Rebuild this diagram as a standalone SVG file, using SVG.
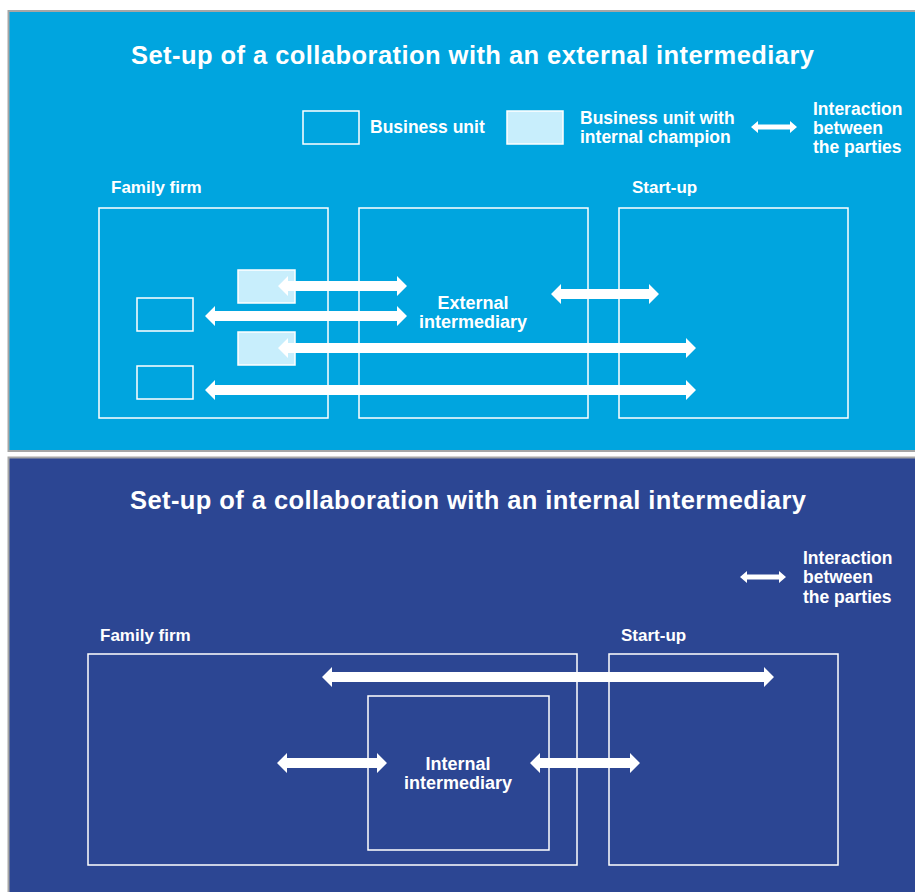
<svg xmlns="http://www.w3.org/2000/svg" width="915" height="892" viewBox="0 0 915 892">
<style>
  text { font-family: "Liberation Sans", Arial, sans-serif; font-weight: bold; fill: #ffffff; }
  .title { font-size: 25.5px; text-anchor: middle; }
  .lbl { font-size: 17px; }
  .leg { font-size: 17.5px; }
  .mid { font-size: 18px; text-anchor: middle; }
  .box { fill: none; stroke: #ffffff; stroke-width: 1.5; }
  .champ { fill: #C8EEFC; stroke: #ffffff; stroke-width: 1.5; }
  .arr { fill: #ffffff; }
  .panel { stroke: #A6A6A6; stroke-width: 2; }
</style>
<rect x="0" y="0" width="915" height="892" fill="#ffffff"/>
<rect class="panel" x="8.5" y="11" width="920" height="440" fill="#00A5DF"/>
<rect class="panel" x="8.5" y="457.5" width="920" height="450" fill="#2C4693"/>

<text class="title" x="472.5" y="64" textLength="683" lengthAdjust="spacing">Set-up of a collaboration with an external intermediary</text>
<text class="title" x="468" y="509" textLength="676" lengthAdjust="spacing">Set-up of a collaboration with an internal intermediary</text>

<g id="legend-top">
  <rect class="box" x="303" y="111" width="56" height="33"/>
  <text class="leg" x="370" y="133">Business unit</text>
  <rect class="champ" x="507" y="111" width="56" height="33"/>
  <text class="leg" x="580" y="124">Business unit with</text>
  <text class="leg" x="580" y="143">internal champion</text>
  <polygon class="arr" points="751,127 758,121 758,124.5 790,124.5 790,121 797,127 790,133 790,129.5 758,129.5 758,133"/>
  <text class="leg" x="813" y="115">Interaction</text>
  <text class="leg" x="813" y="134">between</text>
  <text class="leg" x="813" y="153">the parties</text>
</g>

<g id="family-firm-top">
  <text class="lbl" x="111" y="193">Family firm</text>
  <rect class="box" x="99" y="208" width="229" height="210"/>
  <rect class="box" x="137" y="298" width="56" height="33"/>
  <rect class="box" x="137" y="366" width="56" height="33"/>
  <rect class="champ" x="238" y="270" width="57" height="33"/>
  <rect class="champ" x="238" y="332" width="57" height="33"/>
</g>
<g id="external-intermediary">
  <rect class="box" x="359" y="208" width="229" height="210"/>
  <text class="mid" x="473" y="309">External</text>
  <text class="mid" x="473" y="328">intermediary</text>
</g>
<g id="startup-top">
  <text class="lbl" x="632" y="193">Start-up</text>
  <rect class="box" x="619" y="208" width="229" height="210"/>
</g>

<g id="legend-bottom">
  <polygon class="arr" points="740,577 747,571 747,574.5 779,574.5 779,571 786,577 779,583 779,579.5 747,579.5 747,583"/>
  <text class="leg" x="803" y="564">Interaction</text>
  <text class="leg" x="803" y="583">between</text>
  <text class="leg" x="803" y="603">the parties</text>
</g>

<g id="family-firm-bottom">
  <text class="lbl" x="100" y="641">Family firm</text>
  <rect class="box" x="88" y="654" width="489" height="211"/>
</g>
<g id="internal-intermediary">
  <rect class="box" x="368" y="696" width="181" height="154"/>
  <text class="mid" x="458" y="770">Internal</text>
  <text class="mid" x="458" y="789">intermediary</text>
</g>
<g id="startup-bottom">
  <text class="lbl" x="621" y="641">Start-up</text>
  <rect class="box" x="609" y="654" width="229" height="211"/>
</g>

<g id="connectors">
  <polygon class="arr" points="278,286 288,276 288,281 397,281 397,276 407,286 397,296 397,291 288,291 288,296"/>
  <polygon class="arr" points="205,316 215,306 215,311 397,311 397,306 407,316 397,326 397,321 215,321 215,326"/>
  <polygon class="arr" points="278,348 288,338 288,343 686,343 686,338 696,348 686,358 686,353 288,353 288,358"/>
  <polygon class="arr" points="205,390 215,380 215,385 686,385 686,380 696,390 686,400 686,395 215,395 215,400"/>
  <polygon class="arr" points="551,294 561,284 561,289 649,289 649,284 659,294 649,304 649,299 561,299 561,304"/>
  <polygon class="arr" points="322,677 332,667 332,672 764,672 764,667 774,677 764,687 764,682 332,682 332,687"/>
  <polygon class="arr" points="277,763 287,753 287,758 377,758 377,753 387,763 377,773 377,768 287,768 287,773"/>
  <polygon class="arr" points="530,763 540,753 540,758 630,758 630,753 640,763 630,773 630,768 540,768 540,773"/>
</g>
</svg>
